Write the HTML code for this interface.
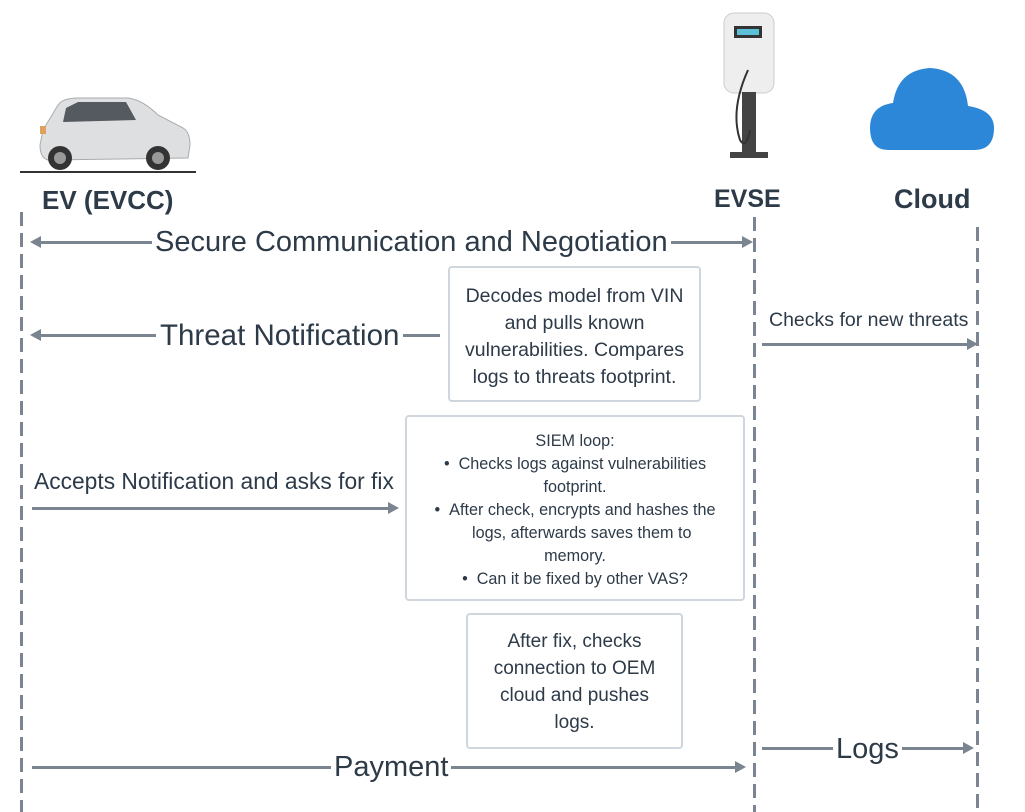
<!DOCTYPE html>
<html><head><style>
body{margin:0;width:1025px;height:812px;background:#fff;position:relative;overflow:hidden;font-family:"Liberation Sans",sans-serif;color:#2d3a48}
.a{position:absolute}
.v{position:absolute;width:3px;background:repeating-linear-gradient(#7a8591 0 14px,transparent 14px 21px)}
.h{position:absolute;height:3px;background:#7a8591}
.lt{position:absolute;width:0;height:0;border-top:6px solid transparent;border-bottom:6px solid transparent}
.l{border-right:11px solid #7a8591}
.r{border-left:11px solid #7a8591}
.box{position:absolute;border:2px solid #cfd6dd;border-radius:4px;background:#fff;text-align:center;box-sizing:border-box;white-space:nowrap}
.lab{position:absolute;background:#fff;white-space:nowrap;line-height:1}
</style></head><body>
<svg class="a" style="left:18px;top:90px" width="180" height="85">
<path d="M25 40 L40 15 Q45 8 60 8 L110 8 Q125 10 140 25 L165 38 Q172 42 172 55 L170 68 L30 70 Q22 68 22 55 Z" fill="#dedfe1" stroke="#a9abad"/>
<path d="M48 18 L60 12 L108 12 L118 30 L45 32 Z" fill="#555a60"/>
<circle cx="42" cy="68" r="12" fill="#333"/><circle cx="42" cy="68" r="6" fill="#999"/>
<circle cx="140" cy="68" r="12" fill="#333"/><circle cx="140" cy="68" r="6" fill="#999"/>
<rect x="22" y="36" width="6" height="8" fill="#e0a060"/>
<line x1="2" y1="82" x2="178" y2="82" stroke="#333" stroke-width="2"/>
</svg>
<svg class="a" style="left:720px;top:10px" width="60" height="155">
<rect x="4" y="3" width="50" height="80" rx="10" fill="#eee" stroke="#ccc"/>
<rect x="14" y="16" width="28" height="12" fill="#333"/><rect x="17" y="19" width="22" height="6" fill="#5bc0d8"/>
<rect x="22" y="82" width="14" height="60" fill="#444"/>
<path d="M28 60 Q10 100 20 130 Q26 140 30 120" fill="none" stroke="#333" stroke-width="2"/>
<rect x="10" y="142" width="38" height="6" fill="#444"/>
</svg>
<svg class="a" style="left:868px;top:66px" width="130" height="86">
<path d="M20 84 Q2 84 2 62 Q2 40 25 37 Q30 4 62 2 Q96 4 100 40 Q126 44 126 62 Q126 84 106 84 Z" fill="#2d87d8"/>
</svg>
<div class="lab" style="left:42px;top:187px;font-size:26px;font-weight:bold">EV (EVCC)</div>
<div class="lab" style="left:714px;top:187px;font-size:25px;font-weight:bold">EVSE</div>
<div class="lab" style="left:894px;top:186px;font-size:27px;font-weight:bold">Cloud</div>
<div class="v" style="left:20px;top:212px;height:600px"></div>
<div class="v" style="left:753px;top:217px;height:595px"></div>
<div class="v" style="left:976px;top:227px;height:585px"></div>
<div class="h" style="left:36px;top:241px;width:710px"></div>
<div class="lt l" style="left:30px;top:236px"></div><div class="lt r" style="left:742px;top:236px"></div>
<div class="lab" style="left:152px;top:228px;font-size:29px;padding:0 3px">Secure Communication and Negotiation</div>
<div class="h" style="left:36px;top:334px;width:404px"></div>
<div class="lt l" style="left:30px;top:329px"></div>
<div class="lab" style="left:156px;top:321px;font-size:29.5px;padding:0 4px">Threat Notification</div>
<div class="box" style="left:448px;top:266px;width:253px;height:136px;font-size:19.5px;line-height:27px;padding-top:15px">Decodes model from VIN<br>and pulls known<br>vulnerabilities. Compares<br>logs to threats footprint.</div>
<div class="lab" style="left:769px;top:311px;font-size:19.5px">Checks for new threats</div>
<div class="h" style="left:762px;top:343px;width:206px"></div>
<div class="lt r" style="left:967px;top:338px"></div>
<div class="lab" style="left:34px;top:470px;font-size:22.8px">Accepts Notification and asks for fix</div>
<div class="h" style="left:32px;top:507px;width:358px"></div>
<div class="lt r" style="left:388px;top:502px"></div>
<div class="box" style="left:405px;top:415px;width:340px;height:186px;font-size:16.2px;line-height:23px;padding-top:13px">SIEM loop:<br>• &nbsp;Checks logs against vulnerabilities<br>footprint.<br>• &nbsp;After check, encrypts and hashes the<br>&nbsp;&nbsp;&nbsp;logs, afterwards saves them to<br>memory.<br>• &nbsp;Can it be fixed by other VAS?</div>
<div class="box" style="left:466px;top:613px;width:217px;height:136px;font-size:19px;line-height:27px;padding-top:13px">After fix, checks<br>connection to OEM<br>cloud and pushes<br>logs.</div>
<div class="h" style="left:32px;top:766px;width:704px"></div>
<div class="lt r" style="left:735px;top:761px"></div>
<div class="lab" style="left:331px;top:753px;font-size:29px;padding:0 3px">Payment</div>
<div class="h" style="left:762px;top:747px;width:202px"></div>
<div class="lt r" style="left:963px;top:742px"></div>
<div class="lab" style="left:833px;top:735px;font-size:29px;padding:0 3px">Logs</div>
</body></html>
